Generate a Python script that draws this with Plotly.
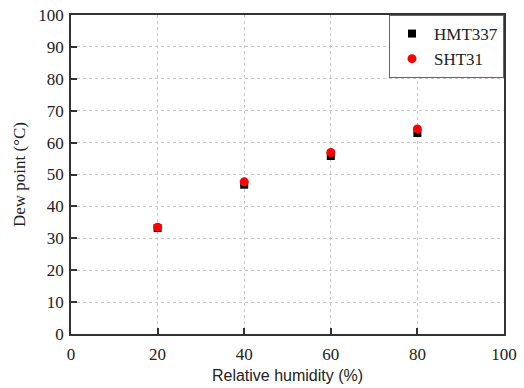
import plotly.graph_objects as go

rh = [20, 40, 60, 80]
hmt337 = [33.2, 46.8, 55.8, 63.0]
sht31 = [33.5, 47.7, 56.9, 64.3]
ticks = [0, 10, 20, 30, 40, 50, 60, 70, 80, 90, 100]
xticks = [0, 20, 40, 60, 80, 100]

serif = "Liberation Serif"
sans = "Liberation Sans"

fig = go.Figure()
fig.add_trace(go.Scatter(x=rh, y=hmt337, mode="markers", name="HMT337",
                         marker=dict(symbol="square", size=8, color="black")))
fig.add_trace(go.Scatter(x=rh, y=sht31, mode="markers", name="SHT31",
                         marker=dict(symbol="circle", size=9, color="red")))

axis_common = dict(
    showline=True, linecolor="#333333", linewidth=1.5, mirror=True,
    ticks="inside", ticklen=6, tickcolor="#333333", tickwidth=1.5,
    showgrid=True, gridcolor="#c8c8c8", griddash="dot", gridwidth=1,
    zeroline=False, automargin=False,
    tickfont=dict(family=serif, size=17, color="#222222"),
)

fig.update_layout(
    width=524, height=388,
    font=dict(family=serif, size=17, color="#222222"),
    margin=dict(l=71, r=20, t=15, b=54),
    paper_bgcolor="white", plot_bgcolor="white",
    xaxis=dict(range=[0, 100], tickvals=xticks, ticklabelstandoff=4,
               title=dict(text="Relative humidity (%)", font=dict(family=sans, size=16, color="#222222"), standoff=7),
               **axis_common),
    yaxis=dict(range=[0, 100], tickvals=ticks, ticklabelstandoff=2,
               title=dict(text="Dew point (°C)", font=dict(family=serif, size=17, color="#222222"), standoff=8),
               **axis_common),
    legend=dict(x=1, y=1, xanchor="right", yanchor="top",
                bordercolor="#666666", borderwidth=1, bgcolor="white",
                font=dict(family=serif, size=17, color="#222222"),
                itemwidth=34, tracegroupgap=0),
    showlegend=True,
)

fig.write_html("out.html")
